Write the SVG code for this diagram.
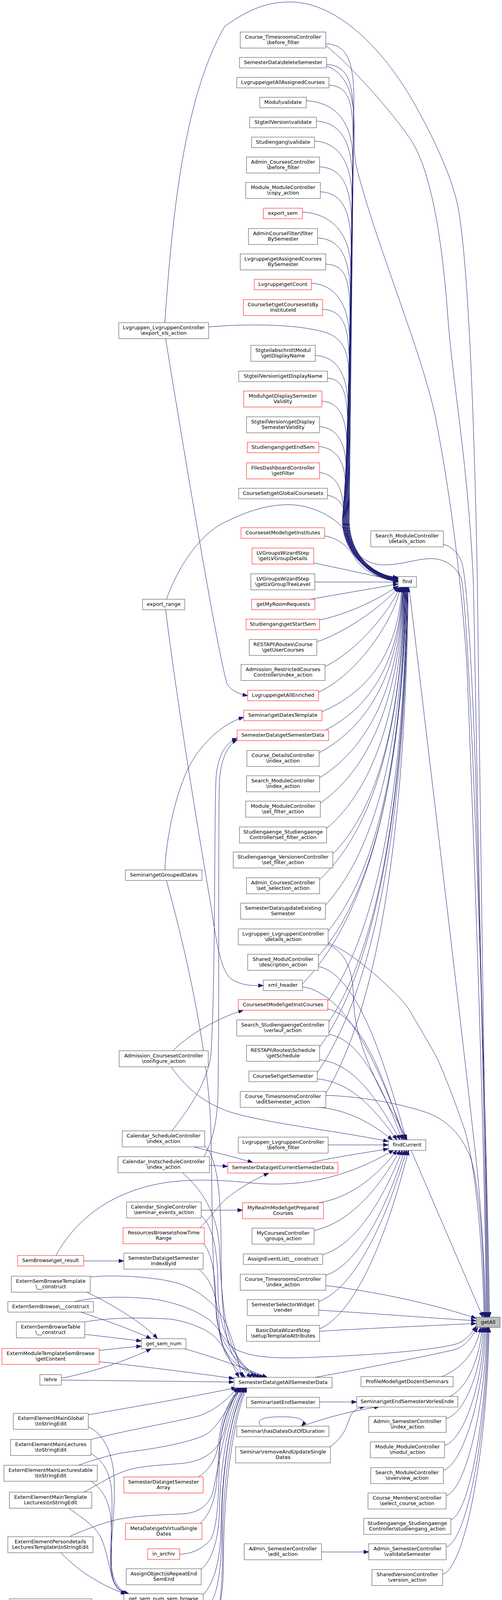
<svg xmlns="http://www.w3.org/2000/svg" width="1285" height="4266" viewBox="0 0 1285 4266">
<defs>
<marker id="a" markerWidth="13" markerHeight="10" refX="13" refY="5" orient="auto" markerUnits="userSpaceOnUse"><path d="M0,0.3 L13,5 L0,9.7 z" fill="#191970" stroke="#191970" stroke-width="1"/></marker>
<style>
.n rect{fill:#ffffff;stroke:#404040;stroke-width:1}
.r rect{stroke:#ff0000}
.s rect{fill:#bfbfbf}
text{font-family:"DejaVu Sans","Liberation Sans",sans-serif;font-size:13px;text-anchor:middle;fill:#000000}
#edges path{fill:none;stroke:#191970;stroke-width:1;marker-end:url(#a)}
</style>
</defs>
<rect x="0" y="0" width="1285" height="4266" fill="#ffffff"/>
<g id="edges">
<path d="M834,112 C889,114 906,157 906,262 L894,1330 C894,1420 955,1474 1019,1478"/>
<path d="M836,165 C891,168 905,210 905,315 L893,1330 C893,1420 955,1474 1019,1479"/>
<path d="M842,218 C895,221 904,263 904,368 L892,1330 C892,1420 955,1475 1019,1479.5"/>
<path d="M784,258 C850,261 903,303 903,408 L891,1330 C891,1420 955,1475 1019,1480"/>
<path d="M810,310 C865,313 902,355 902,460 L890,1330 C890,1420 955,1476 1019,1480.5"/>
<path d="M805,361 C860,364 901,406 901,511 L889,1330 C889,1420 955,1476 1019,1481"/>
<path d="M818,427 C873,430 900,472 900,577 L888,1330 C888,1420 955,1477 1019,1481.5"/>
<path d="M820,491 C875,494 899,536 899,641 L887,1330 C887,1420 955,1477 1019,1482"/>
<path d="M774,543 C840,546 898,588 898,693 L886,1330 C886,1420 955,1478 1019,1482.5"/>
<path d="M813,609 C868,612 897,654 897,759 L885,1330 C885,1420 955,1478 1019,1483"/>
<path d="M834,676 C889,679 896,721 896,826 L884,1330 C884,1420 955,1479 1019,1483.5"/>
<path d="M797,725 C852,728 895,770 895,875 L883,1330 C883,1420 955,1479 1019,1484"/>
<path d="M826,792 C881,795 894,837 894,942 L882,1330 C882,1420 955,1480 1019,1484.5"/>
<path d="M534,837 C640,828 760,830 830,850 C870,862 893,890 893,960 L881,1330 C881,1420 955,1480 1019,1485"/>
<path d="M807,910 C862,913 892,955 892,1060 L880,1330 C880,1420 955,1481 1019,1485.5"/>
<path d="M838,968 C880,970 890,1010 890,1100 L879,1330 C879,1420 955,1481 1019,1486"/>
<path d="M824,1027 C870,1030 888,1070 888,1150 L878,1330 C878,1420 955,1482 1019,1486.5"/>
<path d="M818,1092 C860,1095 886,1130 886,1200 L877,1330 C877,1420 955,1482 1019,1487"/>
<path d="M816,1143 C858,1146 884,1180 884,1240 L876,1330 C876,1420 955,1483 1019,1487.5"/>
<path d="M818,1210 C860,1214 880,1250 880,1320 C880,1420 955,1483 1019,1488"/>
<path d="M838,1268 C870,1272 886,1300 888,1350 C892,1430 955,1484 1019,1488.5"/>
<path d="M831,1372 C870,1378 896,1405 910,1430 C930,1462 970,1482 1019,1489"/>
<path d="M803,1441 L1019,1487"/>
<path d="M806,1490 L1019,1490"/>
<path d="M795,1534 L1019,1495"/>
<path d="M818,1587 C880,1575 960,1540 1019,1500"/>
<path d="M811,1643 C880,1620 970,1560 1021,1503"/>
<path d="M832,1706 C900,1675 990,1580 1024,1503"/>
<path d="M815,1772 C900,1735 1000,1610 1026,1503"/>
<path d="M824,1822 C936,1774 1020,1678 1028,1503"/>
<path d="M833,1869 C941,1814 1022,1704 1030,1503"/>
<path d="M817,1927 C935,1863 1022,1736 1031,1503"/>
<path d="M818,1991 C936,1918 1023,1771 1032,1503"/>
<path d="M820,2056 C937,1973 1024,1807 1033,1503"/>
<path d="M836,2121 C945,2028 1026,1843 1034,1503"/>
<path d="M852,2186 C953,2084 1028,1879 1035,1503"/>
<path d="M818,2252 C938,2140 1027,1915 1036,1503"/>
<path d="M833,2317 C945,2195 1029,1951 1037,1503"/>
<path d="M840,2383 C949,2251 1030,1987 1038,1503"/>
<path d="M815,2448 C938,2306 1030,2023 1039,1503"/>
<path d="M774,2519 C920,2368 1029,2063 1040,1503"/>
<path d="M839,2563 C950,2404 1033,2086 1041,1503"/>
<path d="M842,2616 C952,2449 1034,2115 1042,1503"/>
<path d="M818,2681 C942,2504 1034,2151 1043,1503"/>
<path d="M812,2746 C940,2560 1035,2187 1044,1503"/>
<path d="M834,2799 C950,2605 1037,2216 1045,1503"/>
<path d="M838,2417 C890,2440 904,2490 905,2560 C908,2700 1010,2850 1042,2918"/>
<path d="M815,2474 C916,2496 984,2718 1040,2918"/>
<path d="M774,2526 C893,2544 972,2741 1038,2918"/>
<path d="M839,2583 C927,2600 985,2767 1034,2918"/>
<path d="M842,2648 C927,2662 983,2797 1030,2918"/>
<path d="M818,2713 C911,2723 972,2826 1024,2918"/>
<path d="M812,2762 C904,2770 965,2848 1016,2918"/>
<path d="M803,2834 C894,2838 955,2880 1005,2918"/>
<path d="M438,2731 C480,2790 530,2830 600,2850 C700,2878 850,2893 994,2922"/>
<path d="M840,2931 L994,2931"/>
<path d="M795,2976 C860,2962 940,2950 994,2941"/>
<path d="M143,3214 C190,3130 260,3075 350,3045 C440,3015 540,3018 640,3028 C760,3040 880,3020 1008,2944"/>
<path d="M815,3079 C905,3066 976,2998 1016,2944"/>
<path d="M804,3150 C903,3129 980,3026 1024,2944"/>
<path d="M826,3212 C918,3185 989,3051 1030,2944"/>
<path d="M834,3265 C925,3233 996,3072 1036,2944"/>
<path d="M816,3332 C917,3293 996,3099 1041,2944"/>
<path d="M818,3402 C921,3356 1000,3127 1046,2944"/>
<path d="M422,826 C440,560 470,250 575,68 C640,20 690,5 742,5 C860,5 980,120 1065,273 C1130,390 1165,480 1175,545 C1200,700 1215,1100 1222,1500 C1232,2300 1243,3000 1249,3372"/>
<path d="M834,117 C880,150 1000,280 1053,360 C1110,450 1135,650 1147,819 C1160,990 1200,1200 1212,1500 C1225,2200 1242,3000 1247,3372"/>
<path d="M836,169 C880,185 903,230 906,300 C908,360 905,390 912,425 C960,620 1080,900 1115,1070 C1150,1250 1180,1470 1195,1700 C1215,2200 1240,2900 1245,3372"/>
<path d="M426,1534 C460,1440 520,1360 580,1335 C640,1305 690,1292 738,1292 C790,1292 840,1315 870,1343 C890,1365 898,1395 910,1412 C935,1440 960,1447 990,1446 C1030,1445 1070,1430 1103,1430 C1140,1430 1165,1450 1180,1478 C1200,1540 1240,2600 1251,3372"/>
<path d="M1135,1393 C1160,1402 1175,1418 1182,1440 C1195,1480 1208,1700 1218,2000 C1230,2500 1248,3000 1253,3372"/>
<path d="M1047,1503 C1100,1950 1190,2700 1222,3000 C1234,3130 1241,3250 1243,3372"/>
<path d="M840,2414 C890,2435 930,2470 965,2499 C1010,2540 1040,2568 1055,2598 C1085,2650 1110,2690 1122,2716 C1150,2780 1175,2850 1190,2894 C1215,2980 1234,3150 1239,3372"/>
<path d="M834,2804 C900,2806 1000,2818 1089,2847 C1140,2865 1180,2900 1205,2965 C1228,3040 1238,3200 1241,3372"/>
<path d="M1052,2944 L1236,3372"/>
<path d="M834,3291 C950,3305 1100,3335 1219,3375"/>
<path d="M816,3354 C950,3362 1100,3374 1219,3381"/>
<path d="M818,3408 C950,3400 1100,3394 1219,3388"/>
<path d="M187,3333 C250,3318 330,3318 403,3327 C470,3340 510,3360 537,3380 C560,3400 575,3430 590,3445 C620,3470 680,3478 760,3476 C900,3472 1100,3460 1170,3440 C1195,3430 1210,3410 1219,3395"/>
<path d="M807,3526 C950,3500 1100,3470 1164,3455 C1190,3448 1210,3420 1223,3398"/>
<path d="M1131,3524 C1180,3505 1220,3460 1230,3398"/>
<path d="M1151,3575 C1195,3555 1228,3480 1234,3398"/>
<path d="M1142,3631 C1187,3621 1232,3515 1237,3398"/>
<path d="M1138,3700 C1185,3688 1235,3550 1240,3398"/>
<path d="M1135,3764 C1183,3750 1238,3580 1243,3398"/>
<path d="M1142,3829 C1190,3815 1241,3615 1246,3398"/>
<path d="M1154,3891 C1200,3875 1243,3645 1248,3398"/>
<path d="M1142,3960 C1195,3945 1245,3680 1250,3398"/>
<path d="M1133,4030 C1190,4015 1247,3715 1252,3398"/>
<path d="M818,3589 L913,3589"/>
<path d="M774,3651 C830,3630 900,3612 971,3601"/>
<path d="M668,3651 C652,3632 680,3627 721,3627 C762,3627 788,3633 772,3651"/>
<path d="M844,3704 C880,3680 888,3650 895,3630 C902,3612 915,3603 935,3601"/>
<path d="M823,3973 L944,3973"/>
<path d="M214,3228 L317,3228"/>
<path d="M424,867 C470,1150 560,1690 582,1752 C592,1768 612,1777 634,1781"/>
<path d="M422,2227 C425,2150 450,2010 500,1935 C540,1880 580,1850 624,1836"/>
<path d="M440,2895 C490,2830 530,2770 540,2700 C552,2500 548,2100 553,1990 C558,1930 580,1900 607,1890"/>
<path d="M522,2961 C545,2920 556,2870 558,2800 C562,2500 558,2100 562,1995 C566,1940 585,1905 607,1894"/>
<path d="M424,1561 C460,1850 520,2200 541,2325 C555,2420 565,2480 590,2505 C620,2525 650,2523 674,2523"/>
<path d="M443,2690 C480,2650 560,2605 623,2586"/>
<path d="M496,2936 C550,2950 600,2962 647,2976"/>
<path d="M536,2983 L583,2986"/>
<path d="M512,3143 C540,3115 560,3085 580,3068 C615,3040 650,3020 688,3003"/>
<path d="M515,3098 L621,3098"/>
<path d="M426,2254 C480,2450 535,2700 540,2900 C545,3150 540,3400 580,3470 C600,3500 615,3515 628,3526"/>
<path d="M523,2932 C555,2960 566,3050 566,3200 C566,3360 575,3450 610,3490 C622,3505 632,3518 644,3526"/>
<path d="M467,3002 C510,3040 558,3100 562,3200 C568,3350 580,3450 625,3500 C635,3512 645,3520 652,3526"/>
<path d="M515,3112 C545,3140 558,3200 558,3300 C558,3420 610,3490 660,3526"/>
<path d="M520,3182 C545,3210 553,3280 553,3350 C553,3440 615,3500 668,3526"/>
<path d="M510,3250 C545,3280 558,3330 562,3400 C568,3480 620,3510 676,3526"/>
<path d="M473,3453 C540,3472 620,3500 684,3526"/>
<path d="M231,3269 C300,3262 420,3270 470,3290 C520,3310 555,3345 575,3380 C598,3430 610,3490 620,3526"/>
<path d="M218,3384 C280,3373 360,3372 437,3377 C490,3385 530,3405 547,3420 C575,3445 592,3490 612,3526"/>
<path d="M255,3486 C380,3500 500,3515 599,3529"/>
<path d="M157,3533 L599,3538"/>
<path d="M222,3308 C290,3340 370,3390 403,3427"/>
<path d="M207,3359 C270,3380 340,3405 387,3427"/>
<path d="M218,3416 C270,3422 320,3428 362,3433"/>
<path d="M255,3457 C290,3453 330,3449 362,3446"/>
<path d="M157,3528 C230,3515 320,3485 387,3453"/>
<path d="M226,3622 C350,3600 500,3575 605,3552"/>
<path d="M233,3685 C330,3660 450,3640 508,3625 C550,3612 585,3580 608,3552"/>
<path d="M201,3751 C260,3730 300,3720 344,3715 C420,3705 490,3690 524,3674 C560,3655 590,3590 611,3552"/>
<path d="M215,3820 C260,3795 300,3768 344,3759 C400,3748 460,3750 492,3742 C540,3730 565,3700 575,3660 C585,3610 600,3570 614,3552"/>
<path d="M179,3933 C220,3915 260,3900 300,3890 C360,3878 430,3878 475,3875 C515,3870 535,3850 545,3820 C560,3750 580,3620 616,3552"/>
<path d="M508,3781 C540,3760 555,3730 560,3690 C568,3620 590,3575 618,3552"/>
<path d="M512,3900 C545,3870 555,3820 558,3750 C562,3650 590,3580 620,3552"/>
<path d="M460,3979 C490,3978 520,3965 540,3940 C560,3900 560,3800 562,3720 C565,3630 595,3575 622,3552"/>
<path d="M515,4018 C545,3990 560,3940 562,3860 C565,3720 595,3590 624,3552"/>
<path d="M520,4083 C550,4050 565,3990 566,3900 C568,3750 595,3600 626,3552"/>
<path d="M235,4131 C300,4142 370,4150 430,4145 C480,4140 515,4128 535,4110 C560,4080 568,4000 568,3900 C568,3750 595,3600 628,3552"/>
<path d="M215,4208 C280,4218 340,4225 400,4222 C460,4218 510,4200 535,4180 C565,4150 570,4050 570,3950 C570,3780 598,3610 630,3552"/>
<path d="M512,4234 C545,4200 572,4120 572,4000 C572,3800 600,3620 632,3552"/>
<path d="M226,3652 C260,3670 280,3700 290,3760 C300,3850 280,3950 285,4010 C290,4050 305,4072 330,4080"/>
<path d="M233,3721 C265,3740 282,3770 286,3820 C290,3900 278,3980 285,4030 C292,4062 305,4075 328,4080"/>
<path d="M233,3792 C260,3810 278,3840 283,3880 C290,3950 280,4010 290,4045 C298,4068 310,4076 326,4080"/>
<path d="M176,3861 C210,3885 240,3905 255,3930 C275,3965 280,4030 295,4055 C305,4070 315,4077 324,4080"/>
<path d="M156,3975 C180,4000 210,4025 240,4042 C270,4060 295,4072 322,4080"/>
<path d="M235,4107 L317,4101"/>
<path d="M194,4167 C250,4150 320,4125 360,4108"/>
</g>
<g id="getAll" class="n s"><rect x="1219" y="3372" width="61" height="26"/><text x="1249.5" y="3389">getAll</text></g>
<g id="find" class="n"><rect x="1019" y="1476" width="47" height="27"/><text x="1042.5" y="1493">find</text></g>
<g id="findCurrent" class="n"><rect x="994" y="2918" width="96" height="27"/><text x="1042" y="2935">findCurrent</text></g>
<g id="m1" class="n"><rect x="615" y="82" width="219" height="41"/><text x="724.5" y="98.5">Course_TimesroomsController</text><text x="724.5" y="112.5">\before_filter</text></g>
<g id="m2" class="n"><rect x="613" y="147" width="223" height="27"/><text x="724.5" y="164">SemesterData\deleteSemester</text></g>
<g id="m3" class="n"><rect x="606" y="198" width="236" height="27"/><text x="724" y="215">Lvgruppe\getAllAssignedCourses</text></g>
<g id="m4" class="n"><rect x="665" y="249" width="119" height="27"/><text x="724.5" y="266">Modul\validate</text></g>
<g id="m5" class="n"><rect x="639" y="300" width="171" height="27"/><text x="724.5" y="317">StgteilVersion\validate</text></g>
<g id="m6" class="n"><rect x="644" y="351" width="161" height="27"/><text x="724.5" y="368">Studiengang\validate</text></g>
<g id="m7" class="n"><rect x="631" y="402" width="187" height="41"/><text x="724.5" y="418.5">Admin_CoursesController</text><text x="724.5" y="432.5">\before_filter</text></g>
<g id="m8" class="n"><rect x="629" y="467" width="191" height="41"/><text x="724.5" y="483.5">Module_ModuleController</text><text x="724.5" y="497.5">\copy_action</text></g>
<g id="m9" class="n r"><rect x="674" y="533" width="100" height="27"/><text x="724" y="550">export_sem</text></g>
<g id="m10" class="n"><rect x="636" y="585" width="177" height="41"/><text x="724.5" y="601.5">AdminCourseFilter\filter</text><text x="724.5" y="615.5">BySemester</text></g>
<g id="m11" class="n"><rect x="615" y="650" width="219" height="41"/><text x="724.5" y="666.5">Lvgruppe\getAssignedCourses</text><text x="724.5" y="680.5">BySemester</text></g>
<g id="m12" class="n r"><rect x="651" y="715" width="146" height="27"/><text x="724" y="732">Lvgruppe\getCount</text></g>
<g id="m13" class="n r"><rect x="623" y="767" width="203" height="41"/><text x="724.5" y="783.5">CourseSet\getCoursesetsBy</text><text x="724.5" y="797.5">InstituteId</text></g>
<g id="m14" class="n"><rect x="642" y="884" width="165" height="41"/><text x="724.5" y="900.5">StgteilabschnittModul</text><text x="724.5" y="914.5">\getDisplayName</text></g>
<g id="m15" class="n"><rect x="611" y="950" width="227" height="27"/><text x="724.5" y="967">StgteilVersion\getDisplayName</text></g>
<g id="m16" class="n r"><rect x="624" y="1001" width="200" height="41"/><text x="724" y="1017.5">Modul\getDisplaySemester</text><text x="724" y="1031.5">Validity</text></g>
<g id="m17" class="n"><rect x="631" y="1067" width="187" height="41"/><text x="724.5" y="1083.5">StgteilVersion\getDisplay</text><text x="724.5" y="1097.5">SemesterValidity</text></g>
<g id="m18" class="n r"><rect x="633" y="1132" width="183" height="27"/><text x="724.5" y="1149">Studiengang\getEndSem</text></g>
<g id="m19" class="n r"><rect x="631" y="1185" width="187" height="41"/><text x="724.5" y="1201.5">FilesDashboardController</text><text x="724.5" y="1215.5">\getFilter</text></g>
<g id="m20" class="n"><rect x="611" y="1250" width="227" height="27"/><text x="724.5" y="1267">CourseSet\getGlobalCoursesets</text></g>
<g id="m21" class="n r"><rect x="617" y="1351" width="214" height="27"/><text x="724" y="1368">CoursesetModel\getInstitutes</text></g>
<g id="m22" class="n r"><rect x="645" y="1403" width="158" height="41"/><text x="724" y="1419.5">LVGroupsWizardStep</text><text x="724" y="1433.5">\getLVGroupDetails</text></g>
<g id="m23" class="n"><rect x="642" y="1469" width="164" height="41"/><text x="724" y="1485.5">LVGroupsWizardStep</text><text x="724" y="1499.5">\getLVGroupTreeLevel</text></g>
<g id="m24" class="n r"><rect x="644" y="1534" width="162" height="27"/><text x="725" y="1551">getMyRoomRequests</text></g>
<g id="m25" class="n r"><rect x="630" y="1585" width="188" height="27"/><text x="724" y="1602">Studiengang\getStartSem</text></g>
<g id="m26" class="n"><rect x="638" y="1637" width="173" height="41"/><text x="724.5" y="1653.5">RESTAPI\Routes\Course</text><text x="724.5" y="1667.5">\getUserCourses</text></g>
<g id="m27" class="n"><rect x="617" y="1701" width="215" height="41"/><text x="724.5" y="1717.5">Admission_RestrictedCourses</text><text x="724.5" y="1731.5">Controller\index_action</text></g>
<g id="m28" class="n r"><rect x="634" y="1767" width="181" height="27"/><text x="724.5" y="1784">Lvgruppe\getAllEnriched</text></g>
<g id="m29" class="n r"><rect x="624" y="1818" width="200" height="27"/><text x="724" y="1835">Seminar\getDatesTemplate</text></g>
<g id="m30" class="n r"><rect x="607" y="1869" width="234" height="27"/><text x="724" y="1886">SemesterData\getSemesterData</text></g>
<g id="m31" class="n"><rect x="632" y="1921" width="185" height="41"/><text x="724.5" y="1937.5">Course_DetailsController</text><text x="724.5" y="1951.5">\index_action</text></g>
<g id="m32" class="n"><rect x="631" y="1986" width="187" height="41"/><text x="724.5" y="2002.5">Search_ModuleController</text><text x="724.5" y="2016.5">\index_action</text></g>
<g id="m33" class="n"><rect x="629" y="2051" width="191" height="41"/><text x="724.5" y="2067.5">Module_ModuleController</text><text x="724.5" y="2081.5">\set_filter_action</text></g>
<g id="m34" class="n"><rect x="613" y="2117" width="223" height="41"/><text x="724.5" y="2133.5">Studiengaenge_Studiengaenge</text><text x="724.5" y="2147.5">Controller\set_filter_action</text></g>
<g id="m35" class="n"><rect x="597" y="2181" width="255" height="41"/><text x="724.5" y="2197.5">Studiengaenge_VersionenController</text><text x="724.5" y="2211.5">\set_filter_action</text></g>
<g id="m36" class="n"><rect x="631" y="2247" width="187" height="41"/><text x="724.5" y="2263.5">Admin_CoursesController</text><text x="724.5" y="2277.5">\set_selection_action</text></g>
<g id="m37" class="n"><rect x="616" y="2312" width="217" height="41"/><text x="724.5" y="2328.5">SemesterData\updateExisting</text><text x="724.5" y="2342.5">Semester</text></g>
<g id="m38" class="n"><rect x="610" y="2378" width="230" height="41"/><text x="725" y="2394.5">Lvgruppen_LvgruppenController</text><text x="725" y="2408.5">\details_action</text></g>
<g id="m39" class="n"><rect x="634" y="2443" width="181" height="41"/><text x="724.5" y="2459.5">Shared_ModulController</text><text x="724.5" y="2473.5">\description_action</text></g>
<g id="m40" class="n"><rect x="674" y="2509" width="100" height="27"/><text x="724" y="2526">xml_header</text></g>
<g id="m41" class="n r"><rect x="610" y="2559" width="229" height="27"/><text x="724.5" y="2576">CoursesetModel\getInstCourses</text></g>
<g id="m42" class="n"><rect x="606" y="2611" width="236" height="41"/><text x="724" y="2627.5">Search_StudiengaengeController</text><text x="724" y="2641.5">\verlauf_action</text></g>
<g id="m43" class="n"><rect x="631" y="2676" width="187" height="41"/><text x="724.5" y="2692.5">RESTAPI\Routes\Schedule</text><text x="724.5" y="2706.5">\getSchedule</text></g>
<g id="m44" class="n"><rect x="637" y="2742" width="175" height="27"/><text x="724.5" y="2759">CourseSet\getSemester</text></g>
<g id="m45" class="n"><rect x="615" y="2794" width="219" height="41"/><text x="724.5" y="2810.5">Course_TimesroomsController</text><text x="724.5" y="2824.5">\editSemester_action</text></g>
<g id="m46" class="n"><rect x="610" y="2911" width="230" height="41"/><text x="725" y="2927.5">Lvgruppen_LvgruppenController</text><text x="725" y="2941.5">\before_filter</text></g>
<g id="m47" class="n r"><rect x="583" y="2976" width="282" height="27"/><text x="724" y="2993">SemesterData\getCurrentSemesterData</text></g>
<g id="m48" class="n r"><rect x="621" y="3079" width="207" height="41"/><text x="724.5" y="3095.5">MyRealmModel\getPrepared</text><text x="724.5" y="3109.5">Courses</text></g>
<g id="m49" class="n"><rect x="645" y="3144" width="159" height="41"/><text x="724.5" y="3160.5">MyCoursesController</text><text x="724.5" y="3174.5">\groups_action</text></g>
<g id="m50" class="n"><rect x="623" y="3210" width="203" height="27"/><text x="724.5" y="3227">AssignEventList\__construct</text></g>
<g id="m51" class="n"><rect x="615" y="3262" width="219" height="41"/><text x="724.5" y="3278.5">Course_TimesroomsController</text><text x="724.5" y="3292.5">\index_action</text></g>
<g id="m52" class="n"><rect x="633" y="3327" width="183" height="41"/><text x="724.5" y="3343.5">SemesterSelectorWidget</text><text x="724.5" y="3357.5">\render</text></g>
<g id="m53" class="n"><rect x="631" y="3393" width="187" height="41"/><text x="724.5" y="3409.5">BasicDataWizardStep</text><text x="724.5" y="3423.5">\setupTemplateAttributes</text></g>
<g id="m54" class="n"><rect x="599" y="3526" width="251" height="27"/><text x="724.5" y="3543">SemesterData\getAllSemesterData</text></g>
<g id="m55" class="n"><rect x="631" y="3577" width="187" height="27"/><text x="724.5" y="3594">Seminar\setEndSemester</text></g>
<g id="m56" class="n"><rect x="606" y="3651" width="236" height="27"/><text x="724" y="3668">Seminar\hasDatesOutOfDuration</text></g>
<g id="m57" class="n"><rect x="603" y="3704" width="243" height="41"/><text x="724.5" y="3720.5">Seminar\removeAndUpdateSingle</text><text x="724.5" y="3734.5">Dates</text></g>
<g id="m58" class="n"><rect x="625" y="3952" width="198" height="41"/><text x="724" y="3968.5">Admin_SemesterController</text><text x="724" y="3982.5">\edit_action</text></g>
<g id="l1" class="n"><rect x="304" y="826" width="230" height="41"/><text x="419" y="842.5">Lvgruppen_LvgruppenController</text><text x="419" y="856.5">\export_xls_action</text></g>
<g id="l2" class="n"><rect x="365" y="1534" width="108" height="27"/><text x="419" y="1551">export_range</text></g>
<g id="l3" class="n"><rect x="321" y="2227" width="196" height="27"/><text x="419" y="2244">Seminar\getGroupedDates</text></g>
<g id="l4" class="n"><rect x="305" y="2690" width="228" height="41"/><text x="419" y="2706.5">Admission_CoursesetController</text><text x="419" y="2720.5">\configure_action</text></g>
<g id="l5" class="n"><rect x="313" y="2895" width="211" height="41"/><text x="418.5" y="2911.5">Calendar_ScheduleController</text><text x="418.5" y="2925.5">\index_action</text></g>
<g id="l6" class="n"><rect x="302" y="2961" width="234" height="41"/><text x="419" y="2977.5">Calendar_InstscheduleController</text><text x="419" y="2991.5">\index_action</text></g>
<g id="l7" class="n"><rect x="324" y="3077" width="191" height="41"/><text x="419.5" y="3093.5">Calendar_SingleController</text><text x="419.5" y="3107.5">\seminar_events_action</text></g>
<g id="l8" class="n r"><rect x="315" y="3143" width="208" height="41"/><text x="419" y="3159.5">ResourcesBrowse\showTime</text><text x="419" y="3173.5">Range</text></g>
<g id="l9" class="n"><rect x="317" y="3208" width="203" height="41"/><text x="418.5" y="3224.5">SemesterData\getSemester</text><text x="418.5" y="3238.5">IndexById</text></g>
<g id="l10" class="n"><rect x="362" y="3427" width="114" height="26"/><text x="419" y="3444">get_sem_num</text></g>
<g id="l11" class="n r"><rect x="317" y="3781" width="203" height="41"/><text x="418.5" y="3797.5">SemesterData\getSemester</text><text x="418.5" y="3811.5">Array</text></g>
<g id="l12" class="n r"><rect x="321" y="3900" width="196" height="41"/><text x="419" y="3916.5">MetaDate\getVirtualSingle</text><text x="419" y="3930.5">Dates</text></g>
<g id="l13" class="n r"><rect x="378" y="3965" width="82" height="27"/><text x="419" y="3982">in_archiv</text></g>
<g id="l14" class="n"><rect x="323" y="4016" width="192" height="41"/><text x="419" y="4032.5">AssignObject\isRepeatEnd</text><text x="419" y="4046.5">SemEnd</text></g>
<g id="l15" class="n"><rect x="317" y="4080" width="203" height="27"/><text x="418.5" y="4097">get_sem_num_sem_browse</text></g>
<g id="l16" class="n"><rect x="323" y="4234" width="192" height="27"/><text x="419" y="4251">LogEvent\formatSemester</text></g>
<g id="f1" class="n r"><rect x="45" y="3214" width="169" height="27"/><text x="129.5" y="3231">SemBrowse\get_result</text></g>
<g id="f2" class="n"><rect x="29" y="3267" width="202" height="41"/><text x="130" y="3283.5">ExternSemBrowseTemplate</text><text x="130" y="3297.5">\__construct</text></g>
<g id="f3" class="n"><rect x="20" y="3332" width="219" height="27"/><text x="129.5" y="3349">ExternSemBrowse\__construct</text></g>
<g id="f4" class="n"><rect x="42" y="3384" width="175" height="41"/><text x="129.5" y="3400.5">ExternSemBrowseTable</text><text x="129.5" y="3414.5">\__construct</text></g>
<g id="f5" class="n r"><rect x="5" y="3452" width="249" height="41"/><text x="129.5" y="3468.5">ExternModuleTemplateSemBrowse</text><text x="129.5" y="3482.5">\getContent</text></g>
<g id="f6" class="n"><rect x="102" y="3519" width="55" height="27"/><text x="129.5" y="3536">lehre</text></g>
<g id="f7" class="n"><rect x="34" y="3618" width="192" height="41"/><text x="130" y="3634.5">ExternElementMainGlobal</text><text x="130" y="3648.5">\toStringEdit</text></g>
<g id="f8" class="n"><rect x="27" y="3685" width="206" height="41"/><text x="130" y="3701.5">ExternElementMainLectures</text><text x="130" y="3715.5">\toStringEdit</text></g>
<g id="f9" class="n"><rect x="10" y="3751" width="239" height="41"/><text x="129.5" y="3767.5">ExternElementMainLecturestable</text><text x="129.5" y="3781.5">\toStringEdit</text></g>
<g id="f10" class="n"><rect x="24" y="3820" width="211" height="41"/><text x="129.5" y="3836.5">ExternElementMainTemplate</text><text x="129.5" y="3850.5">Lectures\toStringEdit</text></g>
<g id="f11" class="n"><rect x="20" y="3934" width="218" height="41"/><text x="129" y="3950.5">ExternElementPersondetails</text><text x="129" y="3964.5">LecturesTemplate\toStringEdit</text></g>
<g id="f12" class="n"><rect x="24" y="4093" width="211" height="41"/><text x="129.5" y="4109.5">ExternElementMainTemplate</text><text x="129.5" y="4123.5">SemBrowse\toStringEdit</text></g>
<g id="f13" class="n"><rect x="26" y="4167" width="208" height="41"/><text x="130" y="4183.5">ExternElementPersondetails</text><text x="130" y="4197.5">Lectures\toStringEdit</text></g>
<g id="r1" class="n"><rect x="949" y="1359" width="186" height="41"/><text x="1042" y="1375.5">Search_ModuleController</text><text x="1042" y="1389.5">\details_action</text></g>
<g id="r2" class="n"><rect x="924" y="3524" width="236" height="26"/><text x="1042" y="3541">ProfileModel\getDozentSeminars</text></g>
<g id="r3" class="n"><rect x="913" y="3575" width="259" height="27"/><text x="1042.5" y="3592">Seminar\getEndSemesterVorlesEnde</text></g>
<g id="r4" class="n"><rect x="944" y="3626" width="198" height="41"/><text x="1043" y="3642.5">Admin_SemesterController</text><text x="1043" y="3656.5">\index_action</text></g>
<g id="r5" class="n"><rect x="948" y="3691" width="190" height="41"/><text x="1043" y="3707.5">Module_ModuleController</text><text x="1043" y="3721.5">\modul_action</text></g>
<g id="r6" class="n"><rect x="949" y="3757" width="186" height="41"/><text x="1042" y="3773.5">Search_ModuleController</text><text x="1042" y="3787.5">\overview_action</text></g>
<g id="r7" class="n"><rect x="942" y="3822" width="200" height="41"/><text x="1042" y="3838.5">Course_MembersController</text><text x="1042" y="3852.5">\select_course_action</text></g>
<g id="r8" class="n"><rect x="931" y="3887" width="223" height="41"/><text x="1042.5" y="3903.5">Studiengaenge_Studiengaenge</text><text x="1042.5" y="3917.5">Controller\studiengang_action</text></g>
<g id="r9" class="n"><rect x="944" y="3952" width="198" height="41"/><text x="1043" y="3968.5">Admin_SemesterController</text><text x="1043" y="3982.5">\validateSemester</text></g>
<g id="r10" class="n"><rect x="952" y="4018" width="181" height="41"/><text x="1042.5" y="4034.5">SharedVersionController</text><text x="1042.5" y="4048.5">\version_action</text></g>
</svg>
